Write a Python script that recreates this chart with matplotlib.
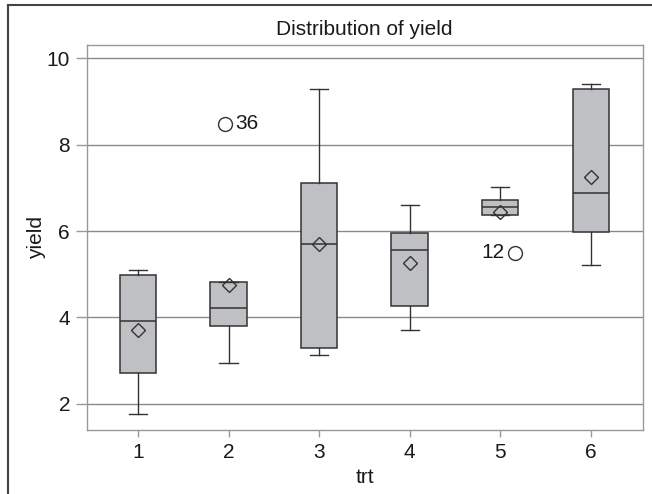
import numpy as np
import matplotlib
matplotlib.use("Agg")
import matplotlib.pyplot as plt
from matplotlib.lines import Line2D

plt.rcParams['font.family'] = ['Liberation Sans', 'DejaVu Sans']

# Values
trt = [1, 2, 3, 4, 5, 6]
whisker_low = [1.76, 2.95, 3.12, 3.71, 6.38, 5.21]
q1 = [2.71, 3.81, 3.29, 4.26, 6.38, 5.98]
median = [3.91, 4.22, 5.71, 5.55, 6.55, 6.88]
q3 = [4.97, 4.82, 7.11, 5.96, 6.71, 9.29]
whisker_high = [5.09, 4.82, 9.29, 6.60, 7.01, 9.40]
mean = [3.71, 4.75, 5.71, 5.27, 6.45, 7.25]

outlier_trt = [2, 5]
outlier_yield = [8.48, 5.50]
outlier_label = ['36', '12']

box_color = '#bfc0c4'
edge_color = '#333333'
grid_color = '#8a8a8a'
text_color = '#1a1a1a'

fig = plt.figure(figsize=(6.52, 4.94), dpi=100)
ax = fig.add_axes([86.7 / 652, 1 - 430 / 494, (642.7 - 86.7) / 652, (430 - 45) / 494])

stats = []
for i in range(len(trt)):
    stats.append(dict(med=median[i], q1=q1[i], q3=q3[i],
                      whislo=whisker_low[i], whishi=whisker_high[i],
                      mean=mean[i], fliers=[]))

ax.bxp(stats, positions=trt, widths=0.4, patch_artist=True,
       showmeans=True, showfliers=False,
       boxprops=dict(facecolor=box_color, edgecolor=edge_color, linewidth=1.1),
       medianprops=dict(color=edge_color, linewidth=1.1),
       whiskerprops=dict(color=edge_color, linewidth=1.0),
       capprops=dict(color=edge_color, linewidth=1.0),
       meanprops=dict(marker='D', markerfacecolor='none', markeredgecolor=edge_color,
                      markersize=7, markeredgewidth=1.0),
       zorder=3)

# outliers with their observation numbers
nudge = [-0.04, 0.16]
ha = ['left', 'right']
off = [0.11, -0.11]
for i in range(len(outlier_trt)):
    x = outlier_trt[i] + nudge[i]
    ax.plot(x, outlier_yield[i], 'o', ms=10, mfc='none', mec=edge_color, mew=1.0, zorder=4)
    ax.text(x + off[i], outlier_yield[i], outlier_label[i], ha=ha[i], va='center',
            fontsize=15, color=text_color)

ax.set_xlim(0.433, 6.575)
ax.set_ylim(1.39, 10.31)
ax.set_xticks(trt)
ax.set_xticklabels([str(t) for t in trt])
ax.set_yticks([2, 4, 6, 8, 10])
ax.yaxis.grid(True, color=grid_color, linewidth=1.0, zorder=0)
ax.set_axisbelow(True)

for s in ax.spines.values():
    s.set_color('#999999')
    s.set_linewidth(1.0)
ax.tick_params(axis='both', colors='#999999', labelcolor=text_color, labelsize=15)
ax.tick_params(axis='y', length=8, width=1.0, pad=4)
ax.tick_params(axis='x', length=5, width=1.0, pad=4)

ax.set_xlabel('trt', fontsize=15, color=text_color, labelpad=5)
ax.set_ylabel('yield', fontsize=15, color=text_color, labelpad=0.5)
ax.set_title('Distribution of yield', fontsize=15, color=text_color, pad=7)

# partial frame around the figure (left and top)
fig.add_artist(Line2D([8 / 652, 8 / 652], [0, 1 - 5 / 494], transform=fig.transFigure,
                      color='#444444', linewidth=1.5))
fig.add_artist(Line2D([8 / 652, 1], [1 - 5 / 494, 1 - 5 / 494], transform=fig.transFigure,
                      color='#444444', linewidth=1.5))

fig.savefig('out.png', dpi=100)
